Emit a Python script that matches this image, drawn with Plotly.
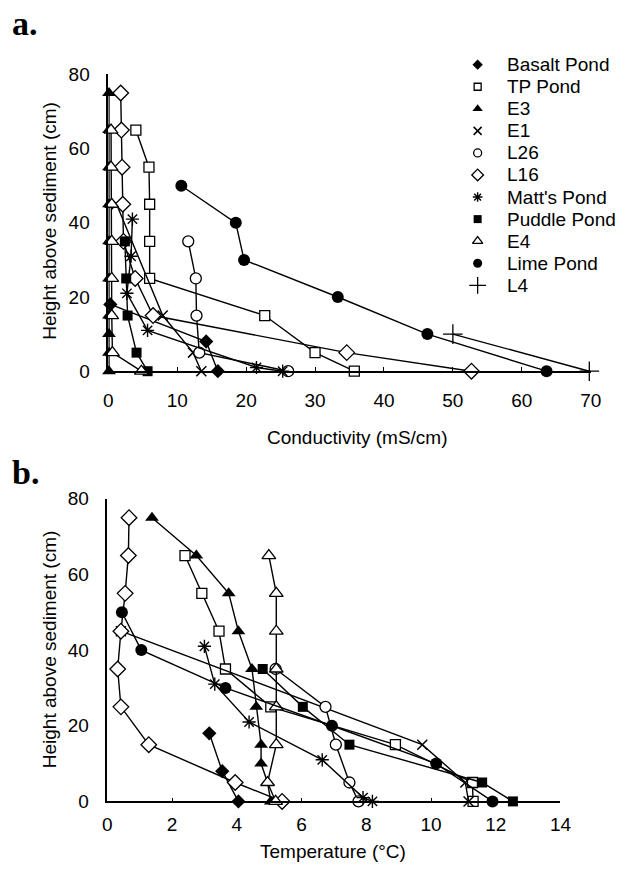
import plotly.graph_objects as go

# ---------------- data ----------------
series_names = ["Basalt Pond", "TP Pond", "E3", "E1", "L26", "L16",
                "Matt's Pond", "Puddle Pond", "E4", "Lime Pond", "L4"]

# heights above sediment (cm)
basalt_h = [18, 8, 0]
tp_h = [65, 55, 45, 35, 25, 15, 5, 0]
e3_h = [75, 65, 55, 45, 35, 25, 15, 10, 5, 0]
e1_h = [45, 15, 5, 0]
l26_h = [35, 25, 15, 5, 0]
l16_h = [75, 65, 55, 45, 35, 25, 15, 5, 0]
matt_h = [41, 31, 21, 11, 1, 0]
puddle_h = [35, 25, 15, 5, 0]
e4_h = [65, 55, 45, 35, 25, 15, 5, 0]
lime_h = [50, 40, 30, 20, 10, 0]
l4_h = [10, 0]

# panel a: conductivity (mS/cm)
basalt_c = [0.3, 14.2, 15.9]
tp_c = [4.0, 5.9, 6.0, 6.0, 6.0, 22.7, 30.0, 35.7]
e3_c = [0.1, 0.1, 0.1, 0.1, 0.1, 0.1, 0.1, 0.1, 0.1, 0.1]
e1_c = [1.2, 7.9, 12.3, 13.5]
l26_c = [11.6, 12.7, 12.8, 13.2, 26.1]
l16_c = [1.8, 1.9, 2.0, 2.1, 2.2, 3.9, 6.5, 34.6, 52.7]
matt_c = [3.5, 3.3, 2.7, 5.7, 21.5, 25.3]
puddle_c = [2.4, 2.6, 2.8, 4.1, 5.7]
e4_c = [0.4, 0.4, 0.5, 0.5, 0.5, 0.5, 0.6, 4.8]
lime_c = [10.6, 18.5, 19.7, 33.3, 46.3, 63.6]
l4_c = [50.0, 69.8]

# panel b: temperature (deg C)
basalt_t = [3.15, 3.55, 4.05]
tp_t = [2.4, 2.92, 3.45, 3.65, 5.05, 8.9, 11.28, 11.3]
e3_t = [1.38, 2.75, 3.75, 4.05, 4.47, 4.6, 4.75, 4.75, 4.95, 5.05]
e1_t = [0.42, 9.73, 11.06, 11.16]
l26_t = [5.2, 6.74, 7.06, 7.48, 7.76]
l16_t = [0.67, 0.65, 0.55, 0.42, 0.32, 0.42, 1.28, 3.95, 5.4]
matt_t = [3.0, 3.32, 4.38, 6.64, 7.9, 8.19]
puddle_t = [4.8, 6.04, 7.48, 11.58, 12.53]
e4_t = [4.99, 5.22, 5.22, 5.22, 5.22, 5.22, 4.95, 5.2]
lime_t = [0.45, 1.05, 3.65, 6.94, 10.16, 11.9]

cond_ticks = [0, 10, 20, 30, 40, 50, 60, 70]
temp_ticks = [0, 2, 4, 6, 8, 10, 12, 14]
height_ticks = [0, 20, 40, 60, 80]

heights = [basalt_h, tp_h, e3_h, e1_h, l26_h, l16_h, matt_h, puddle_h, e4_h, lime_h, l4_h]
conds = [basalt_c, tp_c, e3_c, e1_c, l26_c, l16_c, matt_c, puddle_c, e4_c, lime_c, l4_c]
temps = [basalt_t, tp_t, e3_t, e1_t, l26_t, l16_t, matt_t, puddle_t, e4_t, lime_t, None]

# ---------------- styles ----------------
W, H = 628, 883
styles = [
    dict(symbol="diamond", color="black", size=11, lw=0, ls=8),
    dict(symbol="square", color="white", size=10, lw=1.3, ls=7),
    dict(symbol="triangle-up", color="black", size=12, lw=0, ls=9),
    dict(symbol="x-thin-open", color="black", size=10, lw=1.5, ls=8),
    dict(symbol="circle", color="white", size=11, lw=1.3, ls=8),
    dict(symbol="diamond", color="white", size=12, lw=1.3, ls=9),
    dict(symbol="asterisk-open", color="black", size=11, lw=1.4, ls=8),
    dict(symbol="square", color="black", size=10, lw=0, ls=8),
    dict(symbol="triangle-up", color="white", size=12, lw=1.3, ls=9),
    dict(symbol="circle", color="black", size=12, lw=0, ls=9),
    dict(symbol="cross-thin-open", color="black", size=14, lw=1.3, ls=12),
]

FONT = "Liberation Sans, Arial, sans-serif"
SERIF = "Liberation Serif, Times New Roman, serif"
fig = go.Figure()


def add(xv, yv, st, xa, ya, name):
    fig.add_trace(go.Scatter(
        x=xv, y=yv, mode="lines+markers", name=name, showlegend=False,
        xaxis=xa, yaxis=ya, cliponaxis=False,
        line=dict(color="black", width=1.4),
        marker=dict(symbol=st["symbol"], size=st["size"], color=st["color"],
                    line=dict(color="black", width=st["lw"])),
    ))


for i, name in enumerate(series_names):
    add(conds[i], heights[i], styles[i], "x", "y", name)
for i, name in enumerate(series_names):
    if temps[i] is not None:
        add(temps[i], heights[i], styles[i], "x2", "y2", name)

# manual legend (pixel axis)
leg_y0, leg_dy = 56, 22.6
for i, name in enumerate(series_names):
    st = styles[i]
    fig.add_trace(go.Scatter(
        x=[485], y=[leg_y0 + leg_dy * i], mode="markers", showlegend=False,
        xaxis="x3", yaxis="y3", hoverinfo="skip",
        marker=dict(symbol=st["symbol"], size=st["ls"], color=st["color"],
                    line=dict(color="black", width=st["lw"])),
    ))
    fig.add_annotation(x=513, y=leg_y0 + leg_dy * i, xref="x3", yref="y3",
                       text=name, showarrow=False, xanchor="left", yanchor="middle",
                       font=dict(family=FONT, size=19, color="black"))

axis_common = dict(showgrid=False, zeroline=False, showline=True, linecolor="black",
                   linewidth=1.5, tickfont=dict(family=FONT, size=19, color="black"))


def px_dom_x(a, b):
    return [a / W, b / W]


def px_dom_y(top, bottom):
    return [(H - bottom) / H, (H - top) / H]


fig.update_layout(
    width=W, height=H, margin=dict(l=0, r=0, t=0, b=0),
    paper_bgcolor="white", plot_bgcolor="rgba(0,0,0,0)",
    xaxis=dict(domain=px_dom_x(106, 601), range=[0, 70], tickvals=cond_ticks,
               ticks="inside", ticklen=4, tickcolor="black", anchor="y",
               ticklabelstandoff=11, **axis_common),
    yaxis=dict(domain=px_dom_y(66, 370), range=[0, 80], tickvals=height_ticks,
               ticks="", anchor="x", ticklabelstandoff=13, **axis_common),
    xaxis2=dict(domain=px_dom_x(105, 570), range=[0, 14], tickvals=temp_ticks,
                ticks="inside", ticklen=4, tickcolor="black", anchor="y2",
                ticklabelstandoff=5, **axis_common),
    yaxis2=dict(domain=px_dom_y(500.7, 810.7), range=[0, 80], tickvals=height_ticks,
                ticks="", anchor="x2", ticklabelstandoff=13, **axis_common),
    xaxis3=dict(domain=[0, 1], range=[0, W], visible=False, anchor="y3"),
    yaxis3=dict(domain=[0, 1], range=[H, 0], visible=False, anchor="x3"),
)


# axis titles and panel labels
def ann(x, y, text, size, angle=0, family=FONT, bold=False):
    fig.add_annotation(x=x, y=y, xref="x3", yref="y3", text=("<b>%s</b>" % text) if bold else text,
                       showarrow=False, textangle=angle, xanchor="center", yanchor="middle",
                       font=dict(family=family, size=size, color="black"))


ann(362, 438, "Conductivity (mS/cm)", 19)
ann(46, 216, "Height above sediment (cm)", 19, angle=-90)
ann(337, 862, "Temperature (°C)", 19)
ann(46, 655, "Height above sediment (cm)", 19, angle=-90)
ann(21, 14, "a.", 34, family=SERIF, bold=True)
ann(21, 474, "b.", 34, family=SERIF, bold=True)

fig.write_html("out.html", config={"displayModeBar": False},
               post_script="document.body.style.margin='0';")
